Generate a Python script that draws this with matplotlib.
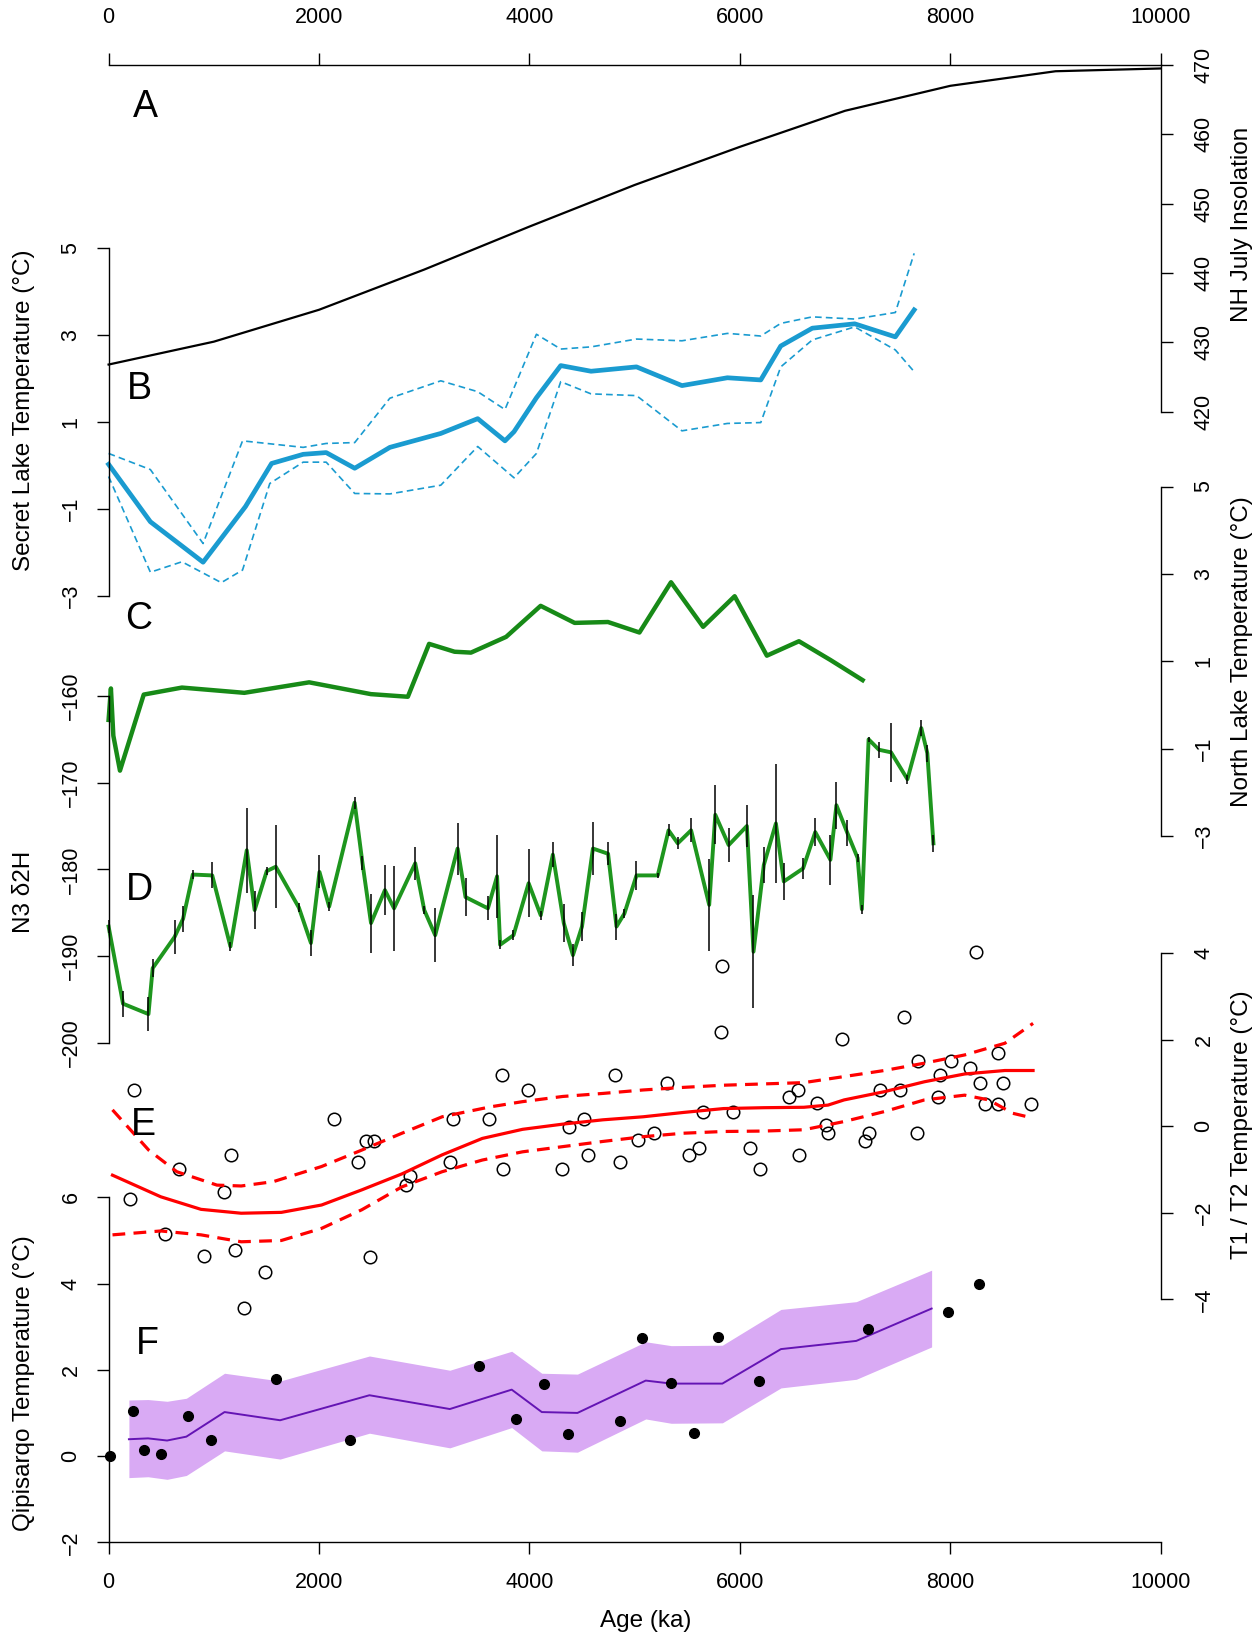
import matplotlib
matplotlib.use("Agg")
import matplotlib.pyplot as plt

plt.rcParams['font.family'] = ['Liberation Sans', 'DejaVu Sans']

# ---- A: NH July insolation
ins_x = [0, 1000, 2000, 3000, 4000, 5000, 6000, 7000, 8000, 9000, 10000]
ins_y = [426.8, 430.1, 434.7, 440.5, 446.7, 452.7, 458.2, 463.4, 467.0, 469.1, 469.5]

# ---- B: Secret Lake temperature
sl_x = [0, 397, 898, 1301, 1549, 1849, 2068, 2339, 2673, 3157, 3508, 3767, 3853,
        4066, 4297, 4585, 5017, 5449, 5881, 6198, 6388, 6688, 7091, 7477, 7656]
sl_y = [0.02, -1.30, -2.23, -0.95, 0.04, 0.25, 0.29, -0.07, 0.41, 0.73, 1.07, 0.56, 0.77,
        1.55, 2.29, 2.16, 2.26, 1.83, 2.01, 1.96, 2.74, 3.15, 3.25, 2.95, 3.57]
slu_x = [0, 397, 898, 1273, 1849, 2068, 2339, 2673, 3157, 3508, 3767, 4066, 4297, 4585,
         5017, 5449, 5881, 6198, 6388, 6688, 7091, 7477, 7656]
slu_y = [0.27, -0.10, -1.80, 0.56, 0.41, 0.50, 0.52, 1.54, 1.94, 1.69, 1.28, 3.01, 2.67, 2.72,
         2.90, 2.86, 3.03, 2.97, 3.26, 3.41, 3.36, 3.51, 4.87]
sll_x = [0, 397, 697, 1071, 1273, 1532, 1849, 2068, 2339, 2673, 3157, 3508, 3853, 4066,
         4297, 4585, 5017, 5449, 5881, 6198, 6388, 6688, 7091, 7477, 7656]
sll_y = [-0.26, -2.46, -2.22, -2.70, -2.41, -0.42, 0.07, 0.07, -0.65, -0.66, -0.46, 0.43, -0.29, 0.27,
         1.92, 1.64, 1.60, 0.79, 0.96, 0.98, 2.26, 2.88, 3.18, 2.65, 2.15]

# ---- C: North Lake temperature
nl_x = [0, 22, 45, 108, 334, 697, 1290, 1906, 2493, 2844, 3046, 3288, 3444, 3778, 4106,
        4429, 4746, 5045, 5345, 5650, 5950, 6256, 6561, 6861, 7166]
nl_y = [-0.34, 0.38, -0.70, -1.50, 0.24, 0.40, 0.28, 0.52, 0.25, 0.19, 1.40, 1.22, 1.20, 1.56, 2.27,
        1.88, 1.90, 1.66, 2.81, 1.79, 2.49, 1.13, 1.46, 1.03, 0.57]

# ---- D: N3 d2H
d_x = [0, 137, 379, 419, 627, 708, 800, 985, 1158, 1313, 1388, 1503, 1589, 1808, 1923, 2004,
       2096, 2338, 2413, 2494, 2626, 2713, 2914, 3000, 3104, 3317, 3392, 3605, 3692, 3721,
       3848, 3992, 4107, 4222, 4326, 4413, 4499, 4603, 4747, 4827, 4902, 5017, 5219, 5322,
       5409, 5536, 5708, 5766, 5893, 6066, 6129, 6227, 6342, 6417, 6600, 6716, 6860, 6917,
       7021, 7119, 7159, 7223, 7321, 7436, 7592, 7724, 7781, 7839]
d_y = [-186.6, -195.5, -196.7, -191.4, -187.8, -185.7, -180.6, -180.7, -188.9, -177.8,
       -184.7, -180.2, -179.7, -184.4, -188.5, -180.3, -184.3, -172.3, -179.3, -186.2,
       -182.4, -184.5, -179.3, -184.7, -187.6, -177.6, -183.2, -184.5, -180.8, -188.7,
       -187.6, -181.6, -185.3, -178.3, -186.2, -189.9, -186.6, -177.6, -178.2, -186.6,
       -185.1, -180.7, -180.7, -175.5, -177.0, -175.5, -184.1, -173.7, -177.2, -175.0,
       -189.5, -179.5, -174.7, -181.4, -179.9, -175.7, -178.9, -172.6, -175.8, -178.7,
       -184.6, -165.0, -166.2, -166.5, -169.6, -163.7, -166.6, -177.0]
d_err = [0.7, 1.5, 2.0, 1.0, 2.0, 1.5, 0.5, 1.5, 0.5, 4.9,
         2.2, 0.5, 4.8, 0.5, 1.5, 1.9, 0.5, 0.7, 0.8, 3.4,
         2.9, 4.9, 1.9, 0.5, 3.1, 3.0, 2.2, 1.4, 4.8, 0.5,
         0.6, 3.9, 0.5, 1.4, 2.2, 1.3, 1.7, 3.1, 1.3, 1.5,
         0.5, 1.7, 0.3, 0.7, 0.7, 1.4, 5.3, 3.4, 2.0, 2.4,
         6.5, 2.1, 6.9, 2.1, 1.2, 1.6, 2.9, 2.7, 1.5, 0.5,
         0.5, 0.3, 0.9, 3.4, 0.5, 0.9, 1.0, 1.0]

# ---- E: T1/T2 temperature
e_pts_x = [243, 206, 534, 672, 908, 1168, 1092, 1206, 1489, 1283, 2138, 2368, 2444, 2520, 2482,
           2826, 2864, 3247, 3269, 3613, 3743, 3751, 3988, 4308, 4377, 4514, 4552, 4813, 4858,
           5027, 5179, 5309, 5515, 5615, 5645, 5829, 5821, 5935, 6096, 6195, 6463, 6554, 6562,
           6730, 6814, 6837, 6974, 7188, 7227, 7333, 7524, 7555, 7685, 7692, 7884, 7906, 8006,
           8182, 8243, 8281, 8326, 8449, 8456, 8502, 8762]
e_pts_y = [0.84, -1.69, -2.50, -0.99, -3.01, -0.67, -1.51, -2.86, -3.36, -4.19, 0.17, -0.83, -0.34,
           -0.34, -3.03, -1.36, -1.16, -0.83, 0.17, 0.17, 1.19, -0.99, 0.84, -0.99, -0.01, 0.17,
           -0.66, 1.19, -0.83, -0.32, -0.16, 1.01, -0.66, -0.50, 0.34, 3.71, 2.19, 0.34, -0.50,
           -0.99, 0.67, 0.84, -0.66, 0.53, 0.03, -0.16, 2.02, -0.33, -0.16, 0.84, 0.84, 2.52,
           -0.16, 1.52, 0.67, 1.19, 1.52, 1.34, 4.04, 1.01, 0.51, 1.69, 0.51, 1.01, 0.51]
e_fit_x = [37, 496, 878, 1260, 1642, 2024, 2406, 2788, 3170, 3552, 3934, 4316, 4698, 5080,
           5462, 5844, 6226, 6608, 6837, 6990, 7372, 7754, 8136, 8518, 8786]
e_fit_y = [-1.13, -1.63, -1.92, -2.01, -1.99, -1.82, -1.47, -1.10, -0.66, -0.28, -0.07, 0.05,
           0.15, 0.22, 0.32, 0.41, 0.43, 0.44, 0.49, 0.61, 0.80, 1.03, 1.21, 1.29, 1.29]
e_up_x = [37, 381, 648, 1030, 1260, 1565, 2024, 2406, 2788, 3170, 3629, 3934, 4316, 4698,
          5080, 5462, 5844, 6226, 6608, 6990, 7372, 7754, 8136, 8518, 8786]
e_up_y = [0.38, -0.55, -1.05, -1.36, -1.38, -1.28, -0.93, -0.55, -0.16, 0.22, 0.45, 0.57, 0.69,
          0.76, 0.84, 0.90, 0.95, 0.98, 1.01, 1.15, 1.29, 1.46, 1.65, 1.92, 2.38]
e_lo_x = [37, 496, 878, 1260, 1642, 2024, 2406, 2788, 3170, 3552, 3934, 4316, 4698, 5080,
          5462, 5844, 6226, 6608, 6990, 7372, 7754, 8136, 8365, 8594, 8786]
e_lo_y = [-2.51, -2.42, -2.51, -2.67, -2.64, -2.36, -1.93, -1.40, -1.05, -0.78, -0.59, -0.47,
          -0.35, -0.24, -0.16, -0.12, -0.11, -0.08, 0.11, 0.34, 0.61, 0.72, 0.61, 0.30, 0.19]

# ---- F: Qipisarqo temperature
f_x = [193, 375, 556, 739, 1102, 1630, 2479, 3243, 3831, 4117, 4456, 5105, 5347, 5833,
       6390, 7106, 7822]
f_mid = [0.39, 0.41, 0.36, 0.45, 1.02, 0.83, 1.41, 1.09, 1.54, 1.02, 1.00, 1.75, 1.68, 1.68,
         2.48, 2.67, 3.42]
f_hi = [1.30, 1.31, 1.27, 1.34, 1.92, 1.74, 2.32, 1.99, 2.43, 1.92, 1.90, 2.65, 2.56, 2.57,
        3.40, 3.58, 4.31]
f_lo = [-0.50, -0.48, -0.54, -0.45, 0.12, -0.07, 0.53, 0.19, 0.66, 0.12, 0.09, 0.86, 0.76, 0.77,
        1.58, 1.78, 2.53]
f_pts_x = [10, 235, 332, 502, 750, 969, 1587, 2298, 3522, 3868, 4135, 4365, 4862, 5069, 5347,
           5566, 5790, 6178, 7216, 7974, 8271]
f_pts_y = [0.01, 1.04, 0.15, 0.05, 0.93, 0.37, 1.78, 0.37, 2.09, 0.85, 1.68, 0.50, 0.82, 2.73,
           1.70, 0.54, 2.75, 1.74, 2.95, 3.34, 3.98]

age_ticks = [0, 2000, 4000, 6000, 8000, 10000]

W, H = 1260, 1637
L, R = 108.6, 1160.8
fig = plt.figure(figsize=(12.6, 16.37), dpi=100)

TICK = 15.5
LAB = 17.5


def make_ax(top, bot, ylim):
    ax = fig.add_axes([L / W, 1 - bot / H, (R - L) / W, (bot - top) / H])
    ax.set_xlim(0, 10000)
    ax.set_ylim(*ylim)
    ax.patch.set_visible(False)
    for s in ax.spines.values():
        s.set_visible(False)
        s.set_linewidth(1.0)
    ax.set_xticks([])
    ax.set_yticks([])
    return ax


def yaxis(ax, side, ticks, pad):
    ax.spines[side].set_visible(True)
    ax.yaxis.set_ticks_position(side)
    ax.set_yticks(ticks)
    ax.set_yticklabels([str(t).replace('-', '\u2212') for t in ticks])
    ax.tick_params(axis='y', direction='out', length=8.5, width=1.0, labelsize=TICK,
                   pad=pad, labelrotation=90)
    for lb in ax.get_yticklabels():
        lb.set_va('center')


# A
axA = make_ax(65.0, 411.7, (420, 470))
yaxis(axA, 'right', [420, 430, 440, 450, 460, 470], 15)
axA.spines['top'].set_visible(True)
axA.xaxis.set_ticks_position('top')
axA.set_xticks(age_ticks)
axA.tick_params(axis='x', direction='out', length=8.5, width=1.0, labelsize=TICK, pad=18)
axA.plot(ins_x, ins_y, color='black', lw=1.6, clip_on=False)

# B
axB = make_ax(247.7, 595.7, (-3, 5))
yaxis(axB, 'left', [-3, -1, 1, 3, 5], 11)
axB.plot(slu_x, slu_y, color='#1A9BD0', lw=1.2, ls=(0, (4, 2.5)), clip_on=False)
axB.plot(sll_x, sll_y, color='#1A9BD0', lw=1.2, ls=(0, (4, 2.5)), clip_on=False)
axB.plot(sl_x, sl_y, color='#1A9BD0', lw=3.4, clip_on=False, solid_joinstyle='round')

# C
axC = make_ax(486.5, 836.2, (-3, 5))
yaxis(axC, 'right', [-3, -1, 1, 3, 5], 15)
axC.plot(nl_x, nl_y, color='#178A17', lw=3.2, clip_on=False)

# D
axD = make_ax(696.0, 1042.7, (-200, -160))
yaxis(axD, 'left', [-200, -190, -180, -170, -160], 11)
axD.plot(d_x, d_y, color='#1E961E', lw=2.8, clip_on=False)
axD.vlines(d_x, [y - e for y, e in zip(d_y, d_err)], [y + e for y, e in zip(d_y, d_err)],
           color='black', lw=1.1, clip_on=False, zorder=3)

# E
axE = make_ax(953.3, 1299.3, (-4, 4))
yaxis(axE, 'right', [-4, -2, 0, 2, 4], 15)
axE.plot(e_pts_x, e_pts_y, 'o', mfc='none', mec='black', ms=9, mew=1.1, clip_on=False)
axE.plot(e_up_x, e_up_y, color='red', lw=2.3, ls=(0, (4, 2.6)), clip_on=False)
axE.plot(e_lo_x, e_lo_y, color='red', lw=2.3, ls=(0, (4, 2.6)), clip_on=False)
axE.plot(e_fit_x, e_fit_y, color='red', lw=2.3, clip_on=False, solid_joinstyle='round')

# F
axF = make_ax(1197.3, 1542.3, (-2, 6))
yaxis(axF, 'left', [-2, 0, 2, 4, 6], 11)
axF.spines['bottom'].set_visible(True)
axF.xaxis.set_ticks_position('bottom')
axF.set_xticks(age_ticks)
axF.tick_params(axis='x', direction='out', length=8.5, width=1.0, labelsize=TICK, pad=13)
axF.fill_between(f_x, f_lo, f_hi, color='#D9AAF4', lw=0, clip_on=False)
axF.plot(f_x, f_mid, color='#6414B4', lw=1.4, clip_on=False)
axF.plot(f_pts_x, f_pts_y, 'o', color='black', ms=7, clip_on=False)

# panel letters
for letter, px, py in [('A', 145, 107), ('B', 139, 389), ('C', 139, 619),
                       ('D', 139, 890), ('E', 143, 1125), ('F', 147, 1344)]:
    fig.text(px / W, 1 - py / H, letter, fontsize=27, ha='center', va='center')

# axis labels
fig.text(24 / W, 1 - 410 / H, 'Secret Lake Temperature (°C)', rotation=90,
         fontsize=LAB, ha='center', va='center')
fig.text(24 / W, 1 - 892 / H, 'N3 δ2H', rotation=90, fontsize=LAB, ha='center', va='center')
fig.text(24 / W, 1 - 1383 / H, 'Qipisarqo Temperature (°C)', rotation=90,
         fontsize=LAB, ha='center', va='center')
fig.text(1242 / W, 1 - 224 / H, 'NH July Insolation', rotation=90,
         fontsize=LAB, ha='center', va='center')
fig.text(1242 / W, 1 - 652 / H, 'North Lake Temperature (°C)', rotation=90,
         fontsize=LAB, ha='center', va='center')
fig.text(1242 / W, 1 - 1125 / H, 'T1 / T2 Temperature (°C)', rotation=90,
         fontsize=LAB, ha='center', va='center')
fig.text(646 / W, 1 - 1621 / H, 'Age (ka)', fontsize=LAB, ha='center', va='center')

fig.savefig('out.png', dpi=100)
